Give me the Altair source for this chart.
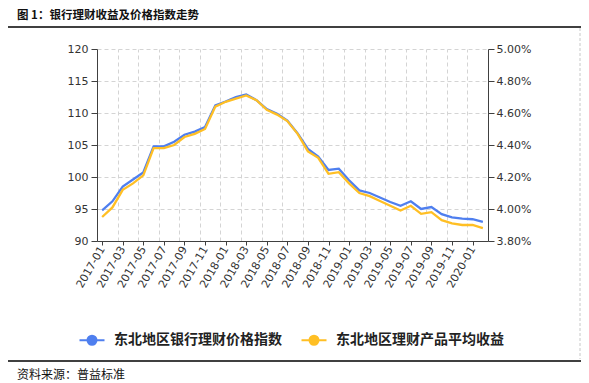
import altair as alt
import pandas as pd

# ---- data ----
months = ["2017-01", "2017-02", "2017-03", "2017-04", "2017-05", "2017-06", "2017-07", "2017-08",
          "2017-09", "2017-10", "2017-11", "2017-12", "2018-01", "2018-02", "2018-03", "2018-04",
          "2018-05", "2018-06", "2018-07", "2018-08", "2018-09", "2018-10", "2018-11", "2018-12",
          "2019-01", "2019-02", "2019-03", "2019-04", "2019-05", "2019-06", "2019-07", "2019-08",
          "2019-09", "2019-10", "2019-11", "2019-12", "2020-01", "2020-02"]
price_index = [94.8, 96.2, 98.5, 99.6, 100.7, 104.8, 104.8, 105.5, 106.6, 107.1, 107.8, 111.2,
               111.8, 112.5, 112.9, 112.0, 110.6, 109.9, 108.8, 106.8, 104.4, 103.2, 101.1, 101.3,
               99.5, 97.9, 97.5, 96.8, 96.1, 95.5, 96.2, 95.0, 95.3, 94.2, 93.7, 93.5, 93.4, 93.0]
avg_yield = [3.95, 4.01, 4.12, 4.16, 4.21, 4.38, 4.38, 4.40, 4.45, 4.47, 4.50, 4.64,
             4.67, 4.69, 4.71, 4.68, 4.62, 4.59, 4.55, 4.47, 4.36, 4.32, 4.22, 4.23,
             4.16, 4.10, 4.08, 4.05, 4.02, 3.99, 4.02, 3.97, 3.98, 3.93, 3.91, 3.90, 3.90, 3.88]
series_names = ["东北地区银行理财价格指数", "东北地区理财产品平均收益"]
left_ticks = [90, 95, 100, 105, 110, 115, 120]
right_ticks = [3.8, 4.0, 4.2, 4.4, 4.6, 4.8, 5.0]
title_text = "图 1：银行理财收益及价格指数走势"
source_text = "资料来源：普益标准"

BLUE = "#4F7FEF"
YELLOW = "#FFBF24"
CJK = "Noto Sans CJK SC"

df = pd.DataFrame({
    "idx": list(range(len(months))) * 2,
    "month": months * 2,
    "series": [series_names[0]] * len(months) + [series_names[1]] * len(months),
    "value": price_index + avg_yield,
})

label_expr = "[" + ",".join("'%s'" % m for m in months) + "][datum.value]"
xscale = alt.Scale(domain=[-0.5, len(months) - 0.5], nice=False, zero=False)
color_scale = alt.Scale(domain=series_names, range=[BLUE, YELLOW])

PATH = "M-2.5,0L2.5,0M0.9,0A0.9,0.9,0,1,1,-0.9,0A0.9,0.9,0,1,1,0.9,0Z"
legend = alt.Legend(
    title=None, orient="none", legendX=-12, legendY=284, direction="horizontal",
    symbolType=PATH, symbolSize=100, symbolStrokeWidth=2, symbolOpacity=1,
    labelFont=CJK, labelFontSize=14, labelFontWeight="bold", labelColor="#222",
    labelOffset=15, columnPadding=15, padding=0, labelLimit=400,
)

bottom_axis = alt.Axis(orient="bottom", values=list(range(0, len(months), 2)), labelExpr=label_expr,
                       labelAngle=-60, labelAlign="right", labelBaseline="middle", tickSize=4,
                       labelPadding=2, grid=False, title=None, labelOverlap=False)
top_grid_axis = alt.Axis(orient="top", values=[i + 0.5 for i in range(1, len(months) - 1, 2)],
                         labels=False, ticks=False, domain=False, grid=True, gridDash=[4, 3],
                         gridColor="#d4d4d4", title=None)

left_axis = alt.Axis(orient="left", values=left_ticks, grid=True, gridDash=[4, 3], gridColor="#d4d4d4",
                     tickSize=6, labelPadding=3, title=None)
right_axis = alt.Axis(orient="right", values=right_ticks, grid=False, tickSize=6, labelPadding=2,
                      labelExpr="format(datum.value, '.2f') + '%'", title=None)

legend_points = alt.Chart(df).transform_filter("datum.idx < 0").mark_point(filled=True, opacity=1).encode(
    color=alt.Color("series:N", scale=color_scale, legend=legend),
)
line1 = alt.Chart(df).transform_filter(alt.datum.series == series_names[0]).mark_line(strokeWidth=2.3).encode(
    x=alt.X("idx:Q", scale=xscale, axis=bottom_axis),
    y=alt.Y("value:Q", scale=alt.Scale(domain=[90, 120], nice=False, zero=False), axis=left_axis),
    color=alt.Color("series:N", scale=color_scale, legend=legend),
)
line2 = alt.Chart(df).transform_filter(alt.datum.series == series_names[1]).mark_line(strokeWidth=2.3).encode(
    x=alt.X("idx:Q", scale=xscale, axis=top_grid_axis),
    y=alt.Y("value:Q", scale=alt.Scale(domain=[3.8, 5.0], nice=False, zero=False), axis=right_axis),
    color=alt.Color("series:N", scale=color_scale, legend=legend),
)

single = alt.Data(values=[{"k": 1}])
title_mark = alt.Chart(single).mark_text(font=CJK, fontSize=11.5, fontWeight="bold", align="left",
                                         baseline="middle", color="#111").encode(
    x=alt.value(-80), y=alt.value(-33), text=alt.value(title_text))
source_mark = alt.Chart(single).mark_text(font=CJK, fontSize=12, align="left", baseline="middle",
                                          color="#111").encode(
    x=alt.value(-80), y=alt.value(326), text=alt.value(source_text))
top_line = alt.Chart(single).mark_rect(color="#000").encode(
    x=alt.value(-92), x2=alt.value(487), y=alt.value(-22.75), y2=alt.value(-21.25))
bottom_line = alt.Chart(single).mark_rect(color="#000").encode(
    x=alt.value(-92), x2=alt.value(487), y=alt.value(311.25), y2=alt.value(312.75))
frame_left = alt.Chart(single).mark_rule(color="#c8c8c8", strokeDash=[3, 2]).encode(
    x=alt.value(-91), y=alt.value(-21), y2=alt.value(310))
frame_right = alt.Chart(single).mark_rule(color="#c8c8c8", strokeDash=[3, 2]).encode(
    x=alt.value(483), y=alt.value(-21), y2=alt.value(310))

chart = alt.layer(
    frame_left, frame_right, bottom_line, top_line, title_mark, source_mark, legend_points, line1, line2
).resolve_scale(y="independent").resolve_axis(x="independent").properties(
    width=391, height=192,
    autosize=alt.AutoSizeParams(type="none"),
    padding={"left": 89, "top": 41, "right": 93, "bottom": 150},
).configure_view(stroke="transparent").configure_axis(
    labelFont="DejaVu Sans", labelFontSize=11, labelColor="#333",
    domainColor="#404040", tickColor="#404040",
)

chart.save("out.html", embed_options={"renderer": "svg", "actions": False})
